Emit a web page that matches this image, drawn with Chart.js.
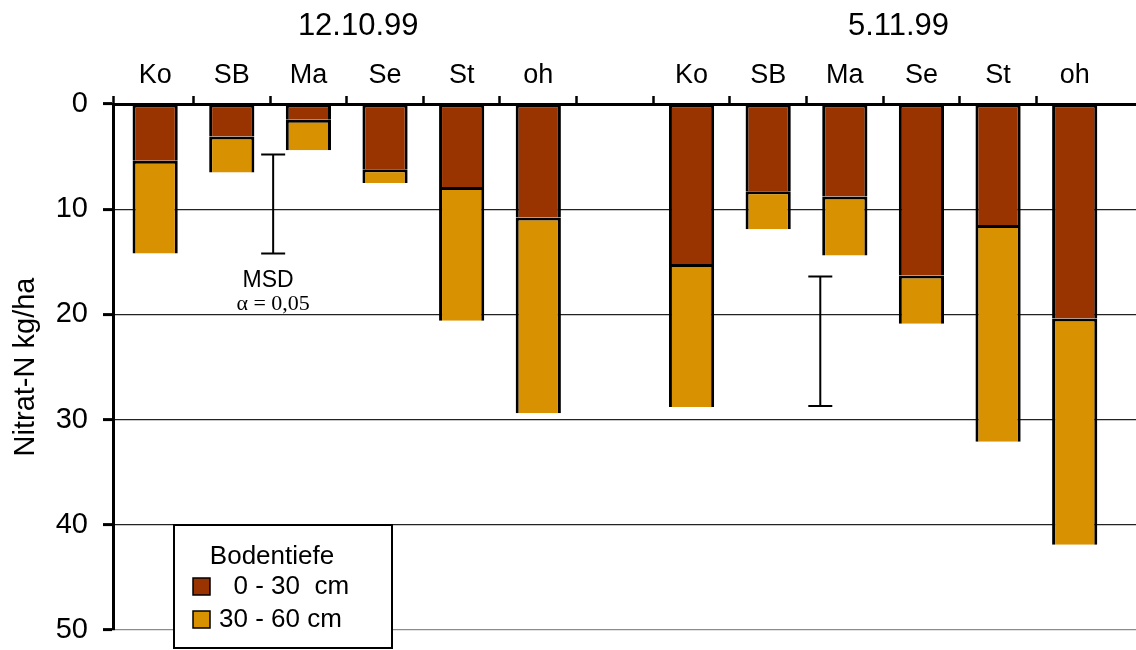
<!DOCTYPE html>
<html>
<head>
<meta charset="utf-8">
<script src="https://cdn.jsdelivr.net/npm/chart.js@4.4.1/dist/chart.umd.min.js"></script>
<style>
  html, body { margin: 0; padding: 0; background: #fff; }
  #wrap { width: 1136px; height: 650px; }
</style>
</head>
<body>
<div id="wrap"><canvas id="nitratChart"></canvas></div>
<script>
// slots along the axis; the empty one separates the two sampling dates
const categories = ['Ko', 'SB', 'Ma', 'Se', 'St', 'oh', '', 'Ko', 'SB', 'Ma', 'Se', 'St', 'oh'];
const dates = ['12.10.99', '5.11.99'];
const depth0to30 = [5.4, 3.1, 1.5, 6.2, 7.9, 10.8, null, 15.2, 8.3, 8.8, 16.3, 11.5, 20.4];
const depth30to60 = [8.8, 3.4, 2.9, 1.3, 12.7, 18.6, null, 13.6, 3.6, 5.6, 4.6, 20.6, 21.5];
const yTicks = [0, 10, 20, 30, 40, 50];
const legendTitle = 'Bodentiefe';

// MSD (alpha = 0,05) bars, x in slot units
const msdAt = [1.54, 8.68];
const msdFrom = [4.8, 16.4];
const msdTo = [14.2, 28.7];

const PAL = { dark: '#993300', light: '#D89100', ink: '#000' };
const FONT = '"Liberation Sans", Arial, sans-serif';
const X_MIN = -0.55;
const X_MAX = 12.8;

const toPoints = (vals) => vals.map((v, i) => (v == null ? null : { x: i, y: v })).filter(Boolean);

const msdPlugin = {
  id: 'msd',
  afterDatasetsDraw(chart) {
    const { ctx, scales: { x, y } } = chart;
    ctx.save();
    ctx.strokeStyle = PAL.ink;
    ctx.lineWidth = 2;
    msdAt.forEach((pos, i) => {
      const px = x.getPixelForValue(pos);
      const top = y.getPixelForValue(msdFrom[i]);
      const bot = y.getPixelForValue(msdTo[i]);
      ctx.beginPath();
      ctx.moveTo(px, top); ctx.lineTo(px, bot);
      ctx.moveTo(px - 12, top); ctx.lineTo(px + 12, top);
      ctx.moveTo(px - 12, bot); ctx.lineTo(px + 12, bot);
      ctx.stroke();
    });
    const lx = x.getPixelForValue(msdAt[0]);
    const ly = y.getPixelForValue(msdTo[0]);
    ctx.fillStyle = PAL.ink;
    ctx.textAlign = 'center';
    ctx.textBaseline = 'middle';
    ctx.font = `23px ${FONT}`;
    ctx.fillText('MSD', lx - 5, ly + 27);
    ctx.font = '22px "Liberation Serif", "Times New Roman", serif';
    ctx.fillText('\u03b1 = 0,05', lx, ly + 51);
    ctx.restore();
  },
};

const boxLegend = {
  id: 'boxLegend',
  afterDraw(chart) {
    const { ctx } = chart;
    const bx = 174, by = 525, bw = 218, bh = 123;
    ctx.save();
    ctx.fillStyle = '#fff';
    ctx.fillRect(bx, by, bw, bh);
    ctx.strokeStyle = PAL.ink;
    ctx.lineWidth = 2;
    ctx.strokeRect(bx, by, bw, bh);
    ctx.fillStyle = PAL.ink;
    ctx.font = `26px ${FONT}`;
    ctx.textBaseline = 'middle';
    ctx.textAlign = 'center';
    ctx.fillText(legendTitle, bx + 98, by + 32);
    ctx.textAlign = 'left';
    chart.data.datasets.forEach((ds, i) => {
      const sy = by + 53 + i * 33;
      ctx.fillStyle = ds.backgroundColor;
      ctx.fillRect(bx + 19, sy, 17, 17);
      ctx.lineWidth = 1.5;
      ctx.strokeRect(bx + 19, sy, 17, 17);
      ctx.fillStyle = PAL.ink;
      ctx.fillText(ds.label, bx + 45, sy + 9);
    });
    ctx.restore();
  },
};

const barStyle = {
  borderColor: PAL.ink,
  borderWidth: 3,
  borderSkipped: 'top',
  categoryPercentage: 0.59,
  barPercentage: 1,
};

new Chart(document.getElementById('nitratChart').getContext('2d'), {
  type: 'bar',
  data: {
    datasets: [
      { label: '  0 - 30  cm', data: toPoints(depth0to30), backgroundColor: PAL.dark, ...barStyle },
      { label: '30 - 60 cm', data: toPoints(depth30to60), backgroundColor: PAL.light, ...barStyle },
    ],
  },
  options: {
    responsive: true,
    maintainAspectRatio: false,
    animation: false,
    layout: { padding: { left: 0, right: 0, top: 0, bottom: 20 } },
    plugins: { legend: { display: false }, tooltip: { enabled: false } },
    scales: {
      x: {
        type: 'linear', position: 'top', min: X_MIN, max: X_MAX, offset: false, stacked: true, weight: 0,
        afterBuildTicks: (s) => { s.ticks = [X_MIN, ...categories.slice(1).map((_, i) => i + 0.5)].map((v) => ({ value: v })); },
        afterFit: (s) => { s.height = 8; s.paddingLeft = 0; s.paddingRight = 0; },
        ticks: { display: false },
        grid: { offset: false, drawOnChartArea: false, drawTicks: true, tickLength: 8, tickWidth: 2.5, tickColor: PAL.ink },
        border: { display: true, width: 3, color: PAL.ink },
      },
      xCat: {
        type: 'linear', position: 'top', min: X_MIN, max: X_MAX, offset: false, weight: 1,
        afterBuildTicks: (s) => { s.ticks = categories.map((c, i) => (c ? { value: i } : null)).filter(Boolean); },
        afterFit: (s) => { s.height = 40; s.paddingLeft = 0; s.paddingRight = 0; },
        ticks: { autoSkip: false, maxRotation: 0, padding: -4, color: PAL.ink, font: { family: FONT, size: 27 }, callback: (v) => categories[v] },
        grid: { display: false },
        border: { display: false },
      },
      xDate: {
        type: 'linear', position: 'top', min: X_MIN, max: X_MAX, offset: false, weight: 2,
        afterBuildTicks: (s) => { s.ticks = [{ value: 2.65 }, { value: 9.7 }]; },
        afterFit: (s) => { s.height = 56; s.paddingLeft = 0; s.paddingRight = 0; },
        ticks: { autoSkip: false, maxRotation: 0, padding: 3, color: PAL.ink, font: { family: FONT, size: 31 }, callback: (v, i) => dates[i] },
        grid: { display: false },
        border: { display: false },
      },
      y: {
        min: 0, max: 50, reverse: true, stacked: true,
        afterBuildTicks: (s) => { s.ticks = yTicks.map((v) => ({ value: v })); },
        afterFit: (s) => { s.width = 113; s.paddingTop = 0; s.paddingBottom = 0; },
        ticks: { padding: 15, color: PAL.ink, font: { family: FONT, size: 29 } },
        grid: {
          color: (c) => (c.tick && c.tick.value === 50 ? '#8c8c8c' : '#222'),
          lineWidth: 1.2, tickLength: 10, tickWidth: 3, tickColor: PAL.ink,
        },
        border: { width: 3, color: PAL.ink },
        title: { display: true, text: 'Nitrat-N kg/ha', color: PAL.ink, font: { family: FONT, size: 29 }, padding: { top: 9, bottom: 0 } },
      },
    },
  },
  plugins: [msdPlugin, boxLegend],
});
</script>
</body>
</html>
